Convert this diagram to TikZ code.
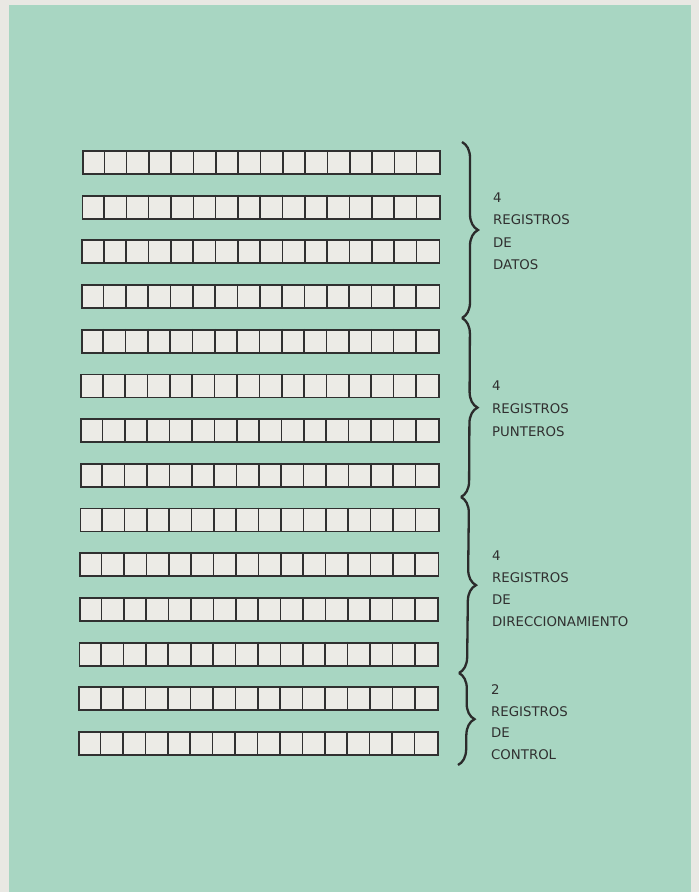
\documentclass[tikz,border=0pt]{standalone}
\usepackage{fontspec}
\setmainfont{DejaVu Sans}
\usetikzlibrary{decorations.pathreplacing}
\definecolor{bggreen}{RGB}{168,214,194}
\definecolor{paper}{RGB}{233,232,227}
\definecolor{cellfill}{RGB}{236,235,230}
\definecolor{ink}{RGB}{48,48,48}
\tikzset{
  regbox/.style={draw=ink, line width=1.8pt, fill=cellfill, inner sep=0pt},
  cellline/.style={draw=ink, line width=1.6pt},
  bracestyle/.style={draw=ink!90!black, line width=2.3pt, decorate, decoration={brace, amplitude=16pt}},
  lbl/.style={anchor=west, inner sep=0pt, text=ink, font=\fontsize{13.3}{16}\selectfont}
}
\begin{document}
\begin{tikzpicture}[x=1pt,y=-1pt]
\useasboundingbox (0,0) rectangle (699,892);
\fill[paper] (0,0) rectangle (699,892);
\fill[bggreen] (9,5) rectangle (691,892);
% registers
\foreach \i in {0,...,13}{
  \pgfmathsetmacro{\top}{150+44.7*\i}
  \pgfmathsetmacro{\lft}{82-4*\i/13}
  \pgfmathsetmacro{\rgt}{439-2*\i/13}
  \pgfmathsetmacro{\cw}{(\rgt-\lft)/16}
  \node[regbox, minimum width={(\rgt-\lft)*1pt}, minimum height=23pt, anchor=north west] (r\i) at (\lft,\top) {};
  \foreach \k in {1,...,15}{
    \draw[cellline] ([xshift=\k*\cw pt]r\i.north west) -- ([xshift=\k*\cw pt]r\i.south west);
  }
}
% braces
\coordinate (b0) at (462,142);
\coordinate (b1) at (462,318);
\coordinate (b2) at (461,497);
\coordinate (b3) at (459,673);
\coordinate (b4) at (458,765);
\draw[bracestyle] (b0) -- (b1);
\draw[bracestyle] (b1) -- (b2);
\draw[bracestyle] (b2) -- (b3);
\draw[bracestyle] (b3) -- (b4);
% labels
\node[lbl] (t1a) at (493,198) {4};
\node[lbl] (t1b) at (493,220) {REGISTROS};
\node[lbl] (t1c) at (493,243) {DE};
\node[lbl] (t1d) at (493,265) {DATOS};
\node[lbl] (t2a) at (492,386) {4};
\node[lbl] (t2b) at (492,409) {REGISTROS};
\node[lbl] (t2c) at (492,432) {PUNTEROS};
\node[lbl] (t3a) at (492,556) {4};
\node[lbl] (t3b) at (492,578) {REGISTROS};
\node[lbl] (t3c) at (492,600) {DE};
\node[lbl] (t3d) at (492,622) {DIRECCIONAMIENTO};
\node[lbl] (t4a) at (491,690) {2};
\node[lbl] (t4b) at (491,712) {REGISTROS};
\node[lbl] (t4c) at (491,733) {DE};
\node[lbl] (t4d) at (491,755) {CONTROL};
\end{tikzpicture}
\end{document}
